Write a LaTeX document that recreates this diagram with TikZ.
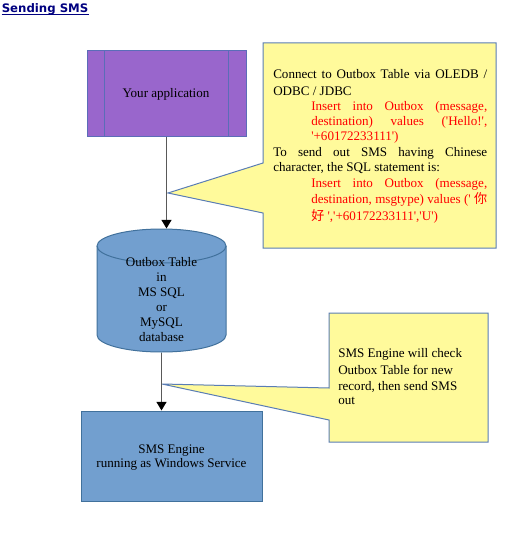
\documentclass[tikz,border=0pt]{standalone}
\usepackage{fontspec}
\setmainfont{Liberation Serif}[Ligatures=TeXOff]
\newfontfamily\titlefont{DejaVu Sans}
\newfontfamily\cjk{Noto Sans CJK SC}
\usetikzlibrary{arrows.meta}
\definecolor{titleblue}{HTML}{000080}
\definecolor{appfill}{HTML}{9966CC}
\definecolor{appline}{HTML}{5B6DB8}
\definecolor{dbfill}{HTML}{729FCF}
\definecolor{dbline}{HTML}{41719C}
\definecolor{notefill}{HTML}{FFFA9B}
\definecolor{noteline}{HTML}{5A7DB5}
\definecolor{sqlred}{HTML}{FF0000}
\definecolor{arrowgray}{HTML}{595959}
\begin{document}
\begin{tikzpicture}[x=0.75pt,y=-0.75pt,
  txt/.style={font=\fontsize{9.8}{11.6}\selectfont, inner sep=0pt, anchor=base west},
  ctxt/.style={txt, anchor=base},
  redtxt/.style={txt, text=sqlred},
  conn/.style={draw=arrowgray, line width=1.1pt, -{Triangle[width=7.5pt,length=6.5pt,black]}},
  note/.style={fill=notefill, draw=noteline, line width=0.75pt, line join=miter},
  box/.style={rectangle, inner sep=0pt, line width=0.75pt}]
\useasboundingbox[fill=white] (0,0) rectangle (511,538);

% title
\node[inner sep=0pt, anchor=base west, text=titleblue, font=\titlefont\bfseries\fontsize{8.8}{11}\selectfont] (title) at (1.5,13) {Sending SMS};
\draw[titleblue, line width=0.8pt] ([yshift=-1.4pt]title.base west) -- ([yshift=-1.4pt]title.base east);

% callouts
\draw[note] (263,43) -- (496,43) -- (496,248) -- (263,248) -- (263,213) -- (168,193) -- (263,163) -- cycle;
\draw[note] (329,313) -- (488,313) -- (488,442) -- (329,442) -- (329,420) -- (162,384) -- (329,388) -- cycle;

% application box
\node[box, fill=appfill, draw=appline, minimum width=119.25pt, minimum height=64.5pt] (app) at (166.5,94) {};
\draw[appline, line width=0.75pt] ([xshift=13.5pt]app.north west) -- ([xshift=13.5pt]app.south west);
\draw[appline, line width=0.75pt] ([xshift=-13.5pt]app.north east) -- ([xshift=-13.5pt]app.south east);
\node[ctxt] (apptext) at (166,98) {Your application};

% database cylinder
\node[box, minimum width=96.75pt, minimum height=92.25pt] (db) at (161.5,290.5) {};
\fill[dbfill] (97,246) -- (97,335) arc[start angle=180, end angle=360, x radius=48.375pt, y radius=12.75pt] -- (226,246) arc[start angle=0, end angle=180, x radius=48.375pt, y radius=12.75pt] -- cycle;
\draw[dbline, line width=0.75pt] (97,246) -- (97,335) arc[start angle=180, end angle=360, x radius=48.375pt, y radius=12.75pt] -- (226,246);
\draw[dbline, line width=0.75pt] (161.5,246) ellipse[x radius=48.375pt, y radius=12.75pt];
\node[ctxt] (db1) at (161.5,266) {Outbox Table};
\node[ctxt] (db2) at (161.5,281) {in};
\node[ctxt] (db3) at (161.5,296) {MS SQL};
\node[ctxt] (db4) at (161.5,311) {or};
\node[ctxt] (db5) at (161.5,326) {MySQL};
\node[ctxt] (db6) at (161.5,341) {database};

% SMS engine
\node[box, fill=dbfill, draw=dbline, minimum width=135.75pt, minimum height=67.5pt] (engine) at (171.5,456) {};
\node[ctxt] (eng1) at (171.5,453) {SMS Engine};
\node[ctxt] (eng2) at (171.5,467) {running as Windows Service};

% connectors
\draw[conn] (app.south) -- (app.south |- db.north);
\draw[conn] (db.south) -- (db.south |- engine.north);

% callout 1 text
\node[txt] (c1) at (273,79) {\makebox[160.5pt][s]{Connect to Outbox Table via OLEDB /}};
\node[txt] (c2) at (273,96) {ODBC / JDBC};
\node[redtxt] (c3) at (311,111) {\makebox[132pt][s]{Insert into Outbox (message,}};
\node[redtxt] (c4) at (311,126) {\makebox[132pt][s]{destination) values ('Hello!',}};
\node[redtxt] (c5) at (311,141) {'+60172233111')};
\node[txt] (c6) at (273,157) {\makebox[160.5pt][s]{To send out SMS having Chinese}};
\node[txt] (c7) at (273,172) {character, the SQL statement is:};
\node[redtxt] (c8) at (311,188) {\makebox[132pt][s]{Insert into Outbox (message,}};
\node[redtxt] (c9) at (311,204) {\makebox[132pt][s]{destination, msgtype) values (' {\cjk 你}}};
\node[redtxt] (c10) at (311,220) {{\cjk 好} ','+60172233111','U')};

% callout 2 text
\node[txt] (d1) at (338,357) {SMS Engine will check};
\node[txt] (d2) at (338,374) {Outbox Table for new};
\node[txt] (d3) at (338,390) {record, then send SMS};
\node[txt] (d4) at (338,404) {out};
\end{tikzpicture}
\end{document}
